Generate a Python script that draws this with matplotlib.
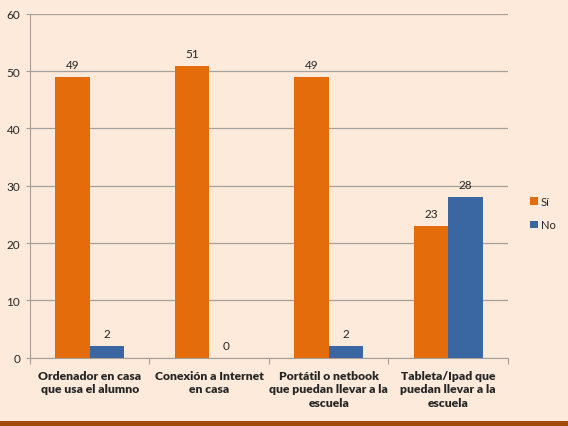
import matplotlib.pyplot as plt
from matplotlib.patches import Rectangle
import numpy as np

# --- datos ---
categorias = [
    "Ordenador en casa\nque usa el alumno",
    "Conexión a Internet\nen casa",
    "Portátil o netbook\nque puedan llevar a la\nescuela",
    "Tableta/Ipad que\npuedan llevar a la\nescuela",
]
valores_si = [49, 51, 49, 23]
valores_no = [2, 0, 2, 28]
series = ["Sí", "No"]

BG_COLOR = '#FDEADA'
NARANJA = '#E46C0A'
AZUL = '#3A66A2'
GRID_COLOR = '#A6A09A'
TEXT_COLOR = '#262626'

plt.rcParams['font.family'] = ['Lato', 'DejaVu Sans']

fig = plt.figure(figsize=(5.68, 4.27), dpi=100)
fig.patch.set_facecolor(BG_COLOR)
ax = fig.add_axes([0.0528, 0.1604, 0.8415, 0.8045])
ax.set_facecolor(BG_COLOR)

x = np.arange(len(categorias))
ancho = 0.29
b1 = ax.bar(x - ancho / 2, valores_si, ancho, color=NARANJA, label=series[0], zorder=3)
b2 = ax.bar(x + ancho / 2, valores_no, ancho, color=AZUL, label=series[1], zorder=3)

for barras in (b1, b2):
    for b in barras:
        ax.text(b.get_x() + b.get_width() / 2, b.get_height() + 1.2, str(int(b.get_height())),
                ha='center', va='bottom', fontsize=8.5, color=TEXT_COLOR)

ax.set_xlim(-0.5, len(categorias) - 0.5)
ax.set_ylim(0, 60)
ax.set_yticks(range(0, 61, 10))
ax.yaxis.grid(True, color=GRID_COLOR, linewidth=0.9, zorder=0)
ax.set_axisbelow(True)

# ejes estilo Excel
for s in ['top', 'right']:
    ax.spines[s].set_visible(False)
ax.spines['left'].set_color(GRID_COLOR)
ax.spines['bottom'].set_color(GRID_COLOR)
ax.tick_params(axis='y', length=3, color=GRID_COLOR, labelsize=8.5, labelcolor=TEXT_COLOR, pad=4)
ax.set_xticks(np.arange(-0.5, len(categorias), 1.0), minor=False)
ax.set_xticklabels([])
ax.tick_params(axis='x', length=4, color=GRID_COLOR, direction='out')
ax.set_xticks(x, minor=True)
ax.set_xticklabels(categorias, minor=True, fontsize=8.7, fontweight='heavy',
                   color=TEXT_COLOR, linespacing=1.25)
ax.tick_params(axis='x', which='minor', length=0, pad=9)

leg = ax.legend(loc='center left', bbox_to_anchor=(1.025, 0.42), frameon=False,
                fontsize=8, handlelength=0.7, handleheight=0.7, handletextpad=0.3,
                labelspacing=1.1)
for t in leg.get_texts():
    t.set_color(TEXT_COLOR)

# franja inferior
fig.patches.append(Rectangle((0, 0), 1, 5 / 427, transform=fig.transFigure,
                             facecolor='#A34B0B', edgecolor='none'))

fig.savefig("out.png", dpi=100, facecolor=BG_COLOR)
